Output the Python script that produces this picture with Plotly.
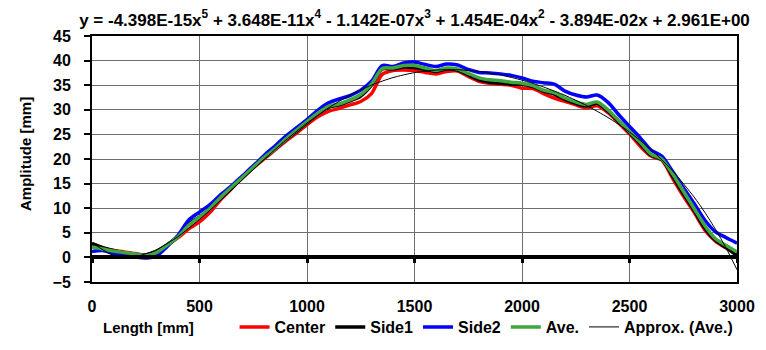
import plotly.graph_objects as go

# ---- data ----
length_mm = [0, 50, 100, 150, 200, 250, 300, 350, 400, 450, 500, 550, 600, 650, 700, 750,
             800, 850, 900, 950, 1000, 1050, 1100, 1150, 1200, 1250, 1300, 1350, 1400, 1450,
             1500, 1550, 1600, 1650, 1700, 1750, 1800, 1850, 1900, 1950, 2000, 2050, 2100,
             2150, 2200, 2250, 2300, 2350, 2400, 2450, 2500, 2550, 2600, 2650, 2700, 2750,
             2800, 2850, 2900, 2950, 3000]

center = [2.8, 1.9, 1.4, 1.1, 0.8, 0.4, 1.1, 2.5, 4.0, 5.8, 7.2, 9.2, 11.8, 14.0, 16.2, 18.2,
          20.0, 21.8, 23.6, 25.2, 27.0, 28.6, 29.7, 30.3, 31.0, 31.7, 33.3, 37.2, 38.0, 38.1,
          38.0, 37.6, 37.3, 37.8, 37.9, 36.8, 35.8, 35.4, 35.2, 35.0, 34.4, 34.3, 33.3,
          32.4, 31.7, 31.0, 30.4, 30.8, 29.4, 27.3, 25.1, 22.6, 20.6, 19.8, 16.1, 12.5,
          9.2, 5.6, 3.3, 1.9, 0.8]

side1 = [2.8, 2.0, 1.4, 0.9, 0.6, 0.5, 1.2, 2.6, 4.3, 6.8, 8.2, 10.0, 12.2, 14.2, 16.3, 18.3,
         20.2, 22.0, 23.9, 25.6, 27.4, 29.2, 30.5, 31.0, 31.8, 32.8, 35.0, 38.3, 38.3, 38.7,
         38.6, 38.2, 37.8, 38.3, 38.1, 37.1, 36.1, 35.6, 35.4, 35.2, 35.2, 34.7, 33.8,
         33.2, 32.1, 31.3, 30.8, 31.3, 29.7, 27.6, 25.4, 23.1, 20.8, 19.9, 16.6, 13.0,
         9.6, 6.0, 3.5, 2.0, 0.4]

side2 = [1.2, 1.4, 0.8, 0.4, 0.1, -0.1, 0.3, 2.2, 4.5, 7.6, 9.2, 10.8, 12.8, 14.6, 16.6, 18.6,
         20.7, 22.6, 24.6, 26.3, 28.0, 29.9, 31.4, 32.2, 32.9, 34.0, 35.8, 39.0, 38.8, 39.5,
         39.7, 39.2, 38.8, 39.3, 39.1, 38.2, 37.6, 37.5, 37.3, 37.0, 36.5, 35.8, 35.5,
         35.2, 33.8, 33.0, 32.6, 33.0, 31.5, 29.0, 26.6, 24.3, 21.8, 20.6, 17.5, 14.2,
         11.0, 7.6, 5.2, 4.0, 2.9]

ave = [2.1, 1.7, 1.3, 1.0, 0.7, 0.4, 1.0, 2.5, 4.2, 6.5, 8.2, 10.0, 12.3, 14.3, 16.3, 18.3,
       20.3, 22.0, 24.0, 25.8, 27.6, 29.3, 30.7, 31.2, 32.0, 33.1, 35.2, 38.4, 38.5, 39.0,
       39.0, 38.5, 38.0, 38.5, 38.3, 37.4, 36.5, 36.1, 35.9, 35.6, 35.4, 34.9, 34.0,
       33.5, 32.4, 31.6, 31.1, 31.6, 30.0, 27.8, 25.6, 23.4, 21.0, 20.0, 17.0, 13.5,
       10.0, 6.5, 3.8, 2.4, 1.1]

approx_x = [0, 100, 200, 300, 400, 500, 600, 700, 800, 900, 1000, 1100, 1200, 1300, 1400,
            1500, 1600, 1700, 1800, 1900, 2000, 2100, 2200, 2300, 2400, 2500, 2600, 2700,
            2800, 2850, 2900, 2950, 3000]
approx_ave = [2.96, 0.41, 0.13, 1.57, 4.23, 7.71, 11.66, 15.80, 19.90, 23.78, 27.30, 30.39,
              32.97, 35.03, 36.55, 37.56, 38.08, 38.14, 37.80, 37.08, 36.03, 34.64, 32.94,
              30.88, 28.43, 25.49, 21.95, 17.62, 12.30, 9.18, 5.71, 1.83, -2.49]

x_ticks = [0, 500, 1000, 1500, 2000, 2500, 3000]
y_ticks = [-5, 0, 5, 10, 15, 20, 25, 30, 35, 40, 45]

series_names = ["Center", "Side1", "Side2", "Ave.", "Approx. (Ave.)"]
title_text = ("y = -4.398E-15x<sup>5</sup> + 3.648E-11x<sup>4</sup> - 1.142E-07x<sup>3</sup>"
              " + 1.454E-04x<sup>2</sup> - 3.894E-02x + 2.961E+00")
x_title = "Length [mm]"
y_title = "Amplitude [mm]"

FONT = "Liberation Sans, Arial, sans-serif"
GRID = "#6e6e6e"
f15 = dict(family=FONT, size=15, color="black", weight="bold")
f16 = dict(family=FONT, size=16, color="black", weight="bold")
f17 = dict(family=FONT, size=17, color="black", weight="bold")

fig = go.Figure()
styles = [("#ff0000", 3.5), ("#000000", 3.5), ("#0000ff", 3.5), ("#3fa63f", 3.5)]
for name, ys, (col, w) in zip(series_names[:4], [center, side1, side2, ave], styles):
    fig.add_trace(go.Scatter(x=length_mm, y=ys, name=name, mode="lines",
                             line=dict(color=col, width=w, shape="spline", smoothing=0.8)))

fig.add_trace(go.Scatter(x=approx_x, y=approx_ave, name=series_names[4], mode="lines",
                         xaxis="x2", line=dict(color="#000000", width=1, shape="spline",
                                               smoothing=0.6)))

# page body has an 8px margin, so the figure is 8px smaller than the window
fig.update_layout(
    width=758, height=342,
    margin=dict(l=84, r=29, t=28, b=68, autoexpand=False),
    paper_bgcolor="white", plot_bgcolor="white",
    font=f15,
    title=dict(text=title_text, x=0.5, xref="paper", xanchor="center",
               y=0.966, yref="container", yanchor="middle", font=f17),
    xaxis=dict(range=[0, 3000], tickvals=x_ticks, showgrid=True, gridcolor=GRID, gridwidth=1,
               showline=True, linecolor="black", linewidth=2, mirror=True, ticks="",
               zeroline=False, ticklabelstandoff=9, automargin=False, tickfont=f16),
    xaxis2=dict(range=[0, 3000], tickvals=x_ticks, overlaying="x", anchor="free", position=0.1,
                showgrid=False, showticklabels=False, showline=True, linecolor="black",
                linewidth=4, ticks="outside", ticklen=4, tickwidth=3, tickcolor="black",
                zeroline=False, automargin=False),
    yaxis=dict(range=[-5, 45], tickvals=y_ticks, showgrid=True, gridcolor=GRID, gridwidth=1,
               showline=True, linecolor="black", linewidth=2, mirror=True, ticks="outside",
               ticklen=6, tickwidth=1.5, tickcolor="black", zeroline=False,
               ticklabelstandoff=10, automargin=False, tickfont=f16),
    legend=dict(orientation="h", x=0.221, xanchor="left", y=-0.183, yanchor="middle",
                yref="paper", bgcolor="rgba(0,0,0,0)", itemwidth=30, font=f16),
    showlegend=True,
    annotations=[
        dict(text=x_title, xref="paper", yref="paper", x=0.087, y=-0.183,
             xanchor="center", yanchor="middle", showarrow=False, font=f15),
        dict(text=y_title, xref="paper", yref="paper", x=-0.104, y=0.52, textangle=-90,
             xanchor="center", yanchor="middle", showarrow=False, font=f15),
    ],
)

fig.write_html("out.html")
